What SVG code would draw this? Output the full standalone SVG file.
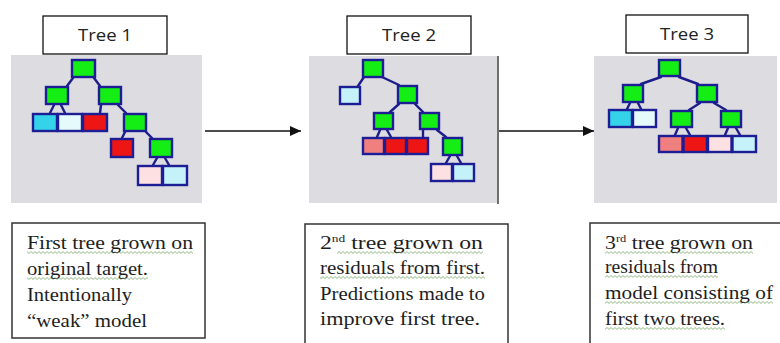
<svg xmlns="http://www.w3.org/2000/svg" width="780" height="343" viewBox="0 0 780 343">
<style>
.panel{fill:#dcdce1;stroke:none}
.lbl{fill:#fff;stroke:#111;stroke-width:1.3}
.lbltxt{font-family:"Open Sans","Liberation Sans",sans-serif;font-size:17px;fill:#222;text-anchor:middle}
.nd{stroke:#1d1d95;stroke-width:2.4}
.g{fill:#14ee14}
.cy{fill:#35d3ea}
.wh{fill:#e4fafb}
.rd{fill:#ee1515}
.pw{fill:#fce0e2}
.lc{fill:#c4f2f8}
.sa{fill:#f07f80}
.edge{stroke:#1d1d8a;stroke-width:2.4;fill:none;stroke-linecap:round}
.arr{stroke:#111;stroke-width:1.5;fill:none}
.tbox{fill:#fff;stroke:#333;stroke-width:1.5}
.tx{font-family:"Liberation Serif","Times New Roman",serif;font-size:19.5px;fill:#1e1e1e}
.sup{font-size:11px}
.sq{fill:url(#sq)}
</style>
<defs>
<marker id="ah" markerUnits="userSpaceOnUse" markerWidth="11" markerHeight="10" refX="11" refY="5" orient="auto">
<path d="M0,0 L11,5 L0,10 Z" fill="#111"/>
</marker>
<pattern id="sq" patternUnits="userSpaceOnUse" width="4" height="3">
<path d="M-1,0.5 L1,2.5 L3,0.5 L5,2.5" stroke="#7fae6e" stroke-width="0.9" fill="none"/>
</pattern>
</defs>

<g id="panels">
<rect class="panel" x="11" y="55" width="191" height="148"/>
<rect class="panel" x="309" y="56" width="188" height="147"/>
<rect class="panel" x="594" y="56" width="183" height="147"/>
<line x1="498" y1="56" x2="498" y2="204" stroke="#333" stroke-width="1.4"/>
</g>

<g id="label-tree1"><rect class="lbl" x="43" y="16" width="124" height="38"/><text class="lbltxt" x="105" y="41" textLength="54" lengthAdjust="spacingAndGlyphs">Tree 1</text></g>
<g id="label-tree2"><rect class="lbl" x="347" y="16" width="124" height="38"/><text class="lbltxt" x="409" y="41" textLength="54" lengthAdjust="spacingAndGlyphs">Tree 2</text></g>
<g id="label-tree3"><rect class="lbl" x="626" y="15" width="122" height="38"/><text class="lbltxt" x="687" y="40" textLength="54" lengthAdjust="spacingAndGlyphs">Tree 3</text></g>

<g id="connectors">
<!-- tree 1 -->
<line class="edge" x1="73" y1="78" x2="67" y2="86"/>
<line class="edge" x1="94" y1="78" x2="100" y2="86"/>
<line class="edge" x1="54" y1="105" x2="50" y2="113"/>
<line class="edge" x1="61" y1="105" x2="65" y2="113"/>
<line class="edge" x1="101" y1="105" x2="100" y2="113"/>
<line class="edge" x1="118" y1="105" x2="126" y2="113"/>
<line class="edge" x1="125" y1="132" x2="122" y2="138"/>
<line class="edge" x1="146" y1="132" x2="152" y2="138"/>
<line class="edge" x1="157" y1="158" x2="153" y2="165"/>
<line class="edge" x1="165" y1="158" x2="169" y2="165"/>
<!-- tree 2 -->
<line class="edge" x1="364" y1="77" x2="358" y2="86"/>
<line class="edge" x1="382" y1="77" x2="399" y2="85"/>
<line class="edge" x1="399" y1="104" x2="390" y2="112"/>
<line class="edge" x1="415" y1="104" x2="423" y2="112"/>
<line class="edge" x1="380" y1="130" x2="377" y2="137"/>
<line class="edge" x1="387" y1="130" x2="391" y2="137"/>
<line class="edge" x1="423" y1="130" x2="423" y2="137"/>
<line class="edge" x1="437" y1="130" x2="446" y2="137"/>
<line class="edge" x1="450" y1="156" x2="446" y2="163"/>
<line class="edge" x1="457" y1="156" x2="461" y2="163"/>
<!-- tree 3 -->
<line class="edge" x1="661" y1="77" x2="641" y2="84"/>
<line class="edge" x1="679" y1="77" x2="698" y2="84"/>
<line class="edge" x1="630" y1="103" x2="627" y2="109"/>
<line class="edge" x1="638" y1="103" x2="641" y2="109"/>
<line class="edge" x1="700" y1="103" x2="689" y2="110"/>
<line class="edge" x1="714" y1="103" x2="726" y2="110"/>
<line class="edge" x1="678" y1="128" x2="675" y2="135"/>
<line class="edge" x1="686" y1="128" x2="690" y2="135"/>
<line class="edge" x1="728" y1="128" x2="725" y2="135"/>
<line class="edge" x1="736" y1="128" x2="740" y2="135"/>
<!-- arrows between trees -->
<line class="arr" x1="205" y1="131" x2="301" y2="131" marker-end="url(#ah)"/>
<line class="arr" x1="499" y1="131" x2="594" y2="131" marker-end="url(#ah)"/>
</g>

<g id="tree1">
<g id="t1-n0"><rect class="nd g" x="72" y="60" width="23" height="17"/></g>
<g id="t1-n1"><rect class="nd g" x="46" y="87" width="22" height="17"/></g>
<g id="t1-n2"><rect class="nd g" x="99" y="87" width="22" height="17"/></g>
<g id="t1-l1"><rect class="nd cy" x="33" y="114" width="24" height="17"/></g>
<g id="t1-l2"><rect class="nd wh" x="58" y="114" width="24" height="17"/></g>
<g id="t1-l3"><rect class="nd rd" x="83" y="114" width="24" height="17"/></g>
<g id="t1-n3"><rect class="nd g" x="124" y="114" width="22" height="17"/></g>
<g id="t1-l4"><rect class="nd rd" x="111" y="139" width="22" height="18"/></g>
<g id="t1-n4"><rect class="nd g" x="150" y="139" width="22" height="18"/></g>
<g id="t1-l5"><rect class="nd pw" x="138" y="166" width="24" height="19"/></g>
<g id="t1-l6"><rect class="nd lc" x="163" y="166" width="24" height="19"/></g>
</g>

<g id="tree2">
<g id="t2-n0"><rect class="nd g" x="363" y="60" width="20" height="17"/></g>
<g id="t2-l1"><rect class="nd lc" x="340" y="87" width="20" height="17"/></g>
<g id="t2-n1"><rect class="nd g" x="398" y="86" width="19" height="17"/></g>
<g id="t2-n2"><rect class="nd g" x="374" y="113" width="19" height="16"/></g>
<g id="t2-n3"><rect class="nd g" x="420" y="113" width="19" height="16"/></g>
<g id="t2-l2"><rect class="nd sa" x="363" y="138" width="21" height="16"/></g>
<g id="t2-l3"><rect class="nd rd" x="385" y="138" width="21" height="16"/></g>
<g id="t2-l4"><rect class="nd rd" x="407" y="138" width="21" height="16"/></g>
<g id="t2-n4"><rect class="nd g" x="443" y="138" width="19" height="17"/></g>
<g id="t2-l5"><rect class="nd pw" x="431" y="164" width="21" height="17"/></g>
<g id="t2-l6"><rect class="nd lc" x="453" y="164" width="21" height="17"/></g>
</g>

<g id="tree3">
<g id="t3-n0"><rect class="nd g" x="659" y="60" width="21" height="16"/></g>
<g id="t3-n1"><rect class="nd g" x="623" y="85" width="20" height="17"/></g>
<g id="t3-n2"><rect class="nd g" x="697" y="85" width="20" height="17"/></g>
<g id="t3-l1"><rect class="nd cy" x="609" y="110" width="23" height="17"/></g>
<g id="t3-l2"><rect class="nd wh" x="633" y="110" width="23" height="17"/></g>
<g id="t3-n3"><rect class="nd g" x="671" y="111" width="21" height="16"/></g>
<g id="t3-n4"><rect class="nd g" x="721" y="111" width="20" height="16"/></g>
<g id="t3-l3"><rect class="nd sa" x="659" y="136" width="23.5" height="16"/></g>
<g id="t3-l4"><rect class="nd rd" x="683.5" y="136" width="23.5" height="16"/></g>
<g id="t3-l5"><rect class="nd pw" x="708" y="136" width="23.5" height="16"/></g>
<g id="t3-l6"><rect class="nd lc" x="732.5" y="136" width="23.5" height="16"/></g>
</g>

<g id="note1">
<rect class="tbox" x="12" y="223" width="193" height="115"/>
<rect class="sq" x="27" y="0" width="166" height="3" transform="translate(0,251)"/>
<rect class="sq" x="27" y="0" width="121" height="3" transform="translate(0,277)"/>
<text class="tx" x="27" y="249" textLength="166" lengthAdjust="spacingAndGlyphs">First tree grown on</text>
<text class="tx" x="27" y="275" textLength="121" lengthAdjust="spacingAndGlyphs">original target.</text>
<text class="tx" x="27" y="301" textLength="105" lengthAdjust="spacingAndGlyphs">Intentionally</text>
<text class="tx" x="27" y="327" textLength="120" lengthAdjust="spacingAndGlyphs">“weak” model</text>
</g>

<g id="note2">
<rect class="tbox" x="305" y="224" width="203" height="130"/>
<rect class="sq" x="337" y="0" width="146" height="3" transform="translate(0,251)"/>
<rect class="sq" x="320" y="0" width="165" height="3" transform="translate(0,276)"/>
<text class="tx" x="320" y="249" textLength="163" lengthAdjust="spacingAndGlyphs">2<tspan class="sup" dy="-7">nd</tspan><tspan dy="7"> tree grown on</tspan></text>
<text class="tx" x="320" y="274" textLength="165" lengthAdjust="spacingAndGlyphs">residuals from first.</text>
<text class="tx" x="320" y="300" textLength="165" lengthAdjust="spacingAndGlyphs">Predictions made to</text>
<text class="tx" x="320" y="325" textLength="160" lengthAdjust="spacingAndGlyphs">improve first tree.</text>
</g>

<g id="note3">
<rect class="tbox" x="590" y="223" width="200" height="130"/>
<rect class="sq" x="605" y="0" width="148" height="3" transform="translate(0,251)"/>
<rect class="sq" x="605" y="0" width="113" height="3" transform="translate(0,275)"/>
<rect class="sq" x="605" y="0" width="168" height="3" transform="translate(0,301)"/>
<rect class="sq" x="605" y="0" width="120" height="3" transform="translate(0,327)"/>
<text class="tx" x="605" y="249" textLength="148" lengthAdjust="spacingAndGlyphs">3<tspan class="sup" dy="-7">rd</tspan><tspan dy="7"> tree grown on</tspan></text>
<text class="tx" x="605" y="273" textLength="113" lengthAdjust="spacingAndGlyphs">residuals from</text>
<text class="tx" x="605" y="299" textLength="168" lengthAdjust="spacingAndGlyphs">model consisting of</text>
<text class="tx" x="605" y="325" textLength="120" lengthAdjust="spacingAndGlyphs">first two trees.</text>
</g>
</svg>
